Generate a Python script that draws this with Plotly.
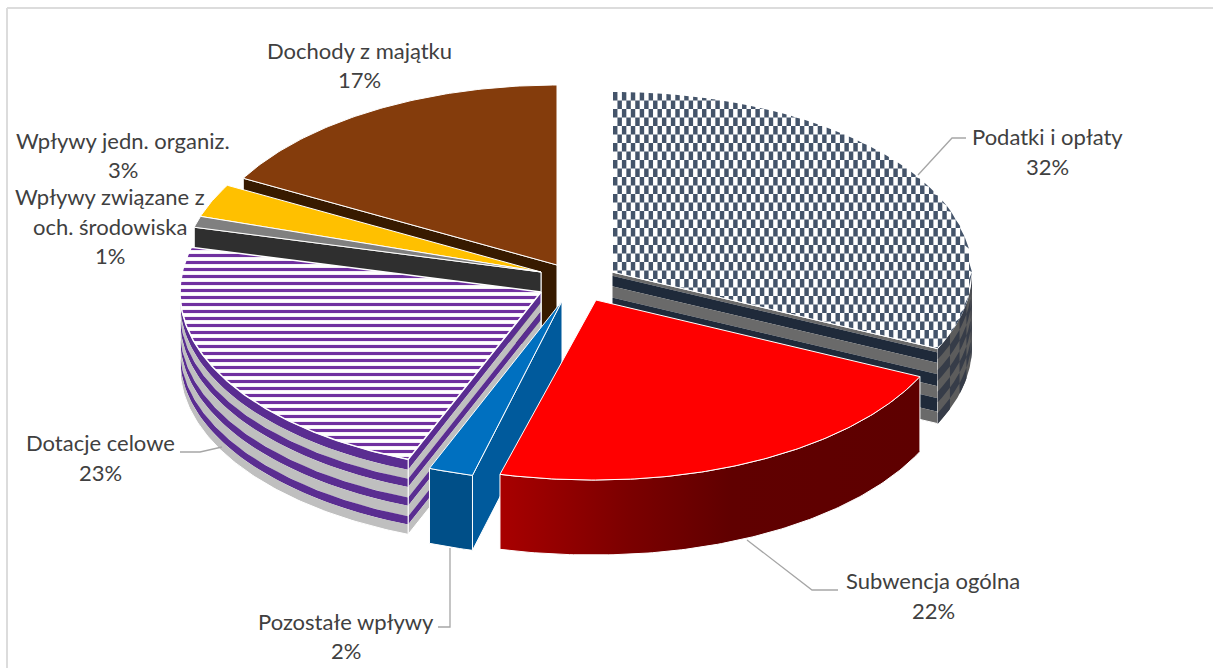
import math
import plotly.graph_objects as go

# ---- data ----
categories = ["Podatki i opłaty", "Subwencja ogólna", "Pozostałe wpływy", "Dotacje celowe",
              "Wpływy związane z och. środowiska", "Wpływy jedn. organiz.", "Dochody z majątku"]
shares = [32, 22, 2, 23, 1, 3, 17]
label_lines = [["Podatki i opłaty"], ["Subwencja ogólna"], ["Pozostałe wpływy"], ["Dotacje celowe"],
               ["Wpływy związane z", "och. środowiska"], ["Wpływy jedn. organiz."], ["Dochody z majątku"]]

# ---- layout / style (pixel space of the axes) ----
W, H = 1213, 668
RY, DEPTH = 180, 75
tips = [(612, 272), (596, 300), (562, 301), (541, 292), (541, 272), (541, 272), (557, 265)]
radii = [360, 358, 360, 361, 358, 358, 358]
label_pos = [(1047, [136, 166]), (933, [580, 610]), (346, [621, 650]), (100, [442, 472]),
             (110, [196, 226, 255]), (123, [140, 169]), (359, [50, 79])]
leaders = [[(918, 175), (952, 138), (966, 138)],
           [(747, 540), (812, 590), (838, 590)],
           [(450, 548), (450, 627), (438, 627)],
           [(222, 447), (200, 452), (180, 452)]]
TOP = ["#44546a", "#ff0000", "#0070c0", "#7030a0", "#808080", "#ffc000", "#843c0c"]

# angles (deg, clockwise from 12 o'clock) come from the shares
starts, ends, c = [], [], 0.0
for s in shares:
    starts.append(c)
    c += s * 3.6
    ends.append(c)


def pt(i, a, d=0.0):
    r = math.radians(a)
    x = tips[i][0] + radii[i] * math.sin(r)
    if i == 1 and a > 170:  # slight perspective widening at the front-left of the red slice
        x -= 7 * (a - 170) / (ends[1] - 170)
    return x, tips[i][1] - RY * math.cos(r) + d


def arc(i, a0, a1, d=0.0, n=None):
    n = n or max(2, int(abs(a1 - a0) * 1.5))
    return [pt(i, a0 + (a1 - a0) * k / n, d) for k in range(n + 1)]


fig = go.Figure()


def poly(points, color=None, line="white", lw=1.0, name="", **kw):
    xs = [p[0] for p in points] + [points[0][0]]
    ys = [p[1] for p in points] + [points[0][1]]
    fig.add_trace(go.Scatter(
        x=xs, y=ys, mode="lines", name=name, fill="toself",
        fillcolor=color if color else "rgba(0,0,0,0)",
        line=dict(color=line if line else "rgba(0,0,0,0)", width=lw if line else 0),
        hoverinfo="skip", showlegend=False, **kw))


def multi(polys, color, name=""):
    xs, ys = [], []
    for p in polys:
        xs += [q[0] for q in p] + [p[0][0], None]
        ys += [q[1] for q in p] + [p[0][1], None]
    fig.add_trace(go.Scatter(x=xs, y=ys, mode="lines", fill="toself", fillcolor=color,
                             line=dict(width=0, color=color), hoverinfo="skip",
                             showlegend=False, name=name))


def wedge(i):
    return [tips[i]] + arc(i, starts[i], ends[i])


def radial_wall(i, a):
    return [tips[i], pt(i, a), pt(i, a, DEPTH), (tips[i][0], tips[i][1] + DEPTH)]


def rim_wall(i, a0, a1):
    return arc(i, a0, a1) + arc(i, a1, a0, DEPTH)


def radial_bands(i, a, stops, colors):
    for k, col in enumerate(colors):
        d0, d1 = DEPTH * stops[k], DEPTH * stops[k + 1]
        poly([(tips[i][0], tips[i][1] + d0), pt(i, a, d0), pt(i, a, d1),
              (tips[i][0], tips[i][1] + d1)], col, line=None)


def rim_bands(i, a0, a1, stops, colors):
    for k, col in enumerate(colors):
        d0, d1 = DEPTH * stops[k], DEPTH * stops[k + 1]
        poly(arc(i, a0, a1, d0) + arc(i, a1, a0, d1), col, line=None)


# ---- Dochody z majątku (back) ----
i = 6
poly(radial_wall(i, starts[i]), "#371a00", name=categories[i])
poly(wedge(i), TOP[i], name=categories[i])

# ---- Wpływy jedn. organiz. ----
i = 5
poly(radial_wall(i, starts[i]), "#7f6000", name=categories[i])
poly(wedge(i), TOP[i], name=categories[i])

# ---- Ochrona środowiska ----
i = 4
poly(radial_wall(i, starts[i]), "#2f2f2f", name=categories[i])
poly(wedge(i), TOP[i], name=categories[i])

# ---- Podatki i opłaty: checker pattern ----
i = 0
radial_bands(i, ends[i], [0, .05, .19, .34, .50, .66, .84, 1],
             ["#6a6a6a", "#1f2a3a", "#6a6a6a", "#1f2a3a", "#6a6a6a", "#1f2a3a", "#6a6a6a"])
poly(radial_wall(i, ends[i]), None)
rim_bands(i, 90, ends[i], [0, 1], ["#5c5c5c"])
cells = []
NA, ND = 5, 7
for ca in range(NA):
    for cd in range(ND):
        if (ca + cd) % 2 == 0:
            a0 = 90 + (ends[i] - 90) * ca / NA
            a1 = 90 + (ends[i] - 90) * (ca + 1) / NA
            d0, d1 = DEPTH * cd / ND, DEPTH * (cd + 1) / ND
            cells.append(arc(i, a0, a1, d0, 3) + arc(i, a1, a0, d1, 3))
multi(cells, "#363c48")
poly(wedge(i), "white", line=None, name=categories[i])

ex, ey = pt(i, ends[i])
tx, ty = tips[i]
rx = radii[i]


def upper(x):
    u = min(1.0, abs(x - tx) / rx)
    return ty - RY * math.sqrt(1 - u * u)


def lower(x):
    if x <= ex:
        return ty + (ey - ty) * (x - tx) / (ex - tx)
    u = min(1.0, abs(x - tx) / rx)
    return ty + RY * math.sqrt(1 - u * u)


CW, CH = 4.45, 8.5
checks = []
cols = int(rx / CW) + 1
rows = int((ey - (ty - RY)) / CH) + 14
for col in range(cols):
    xl, xr = tx + 1 + col * CW, min(tx + 1 + (col + 1) * CW, tx + rx)
    if xl >= xr:
        continue
    for row in range(rows):
        if (col + row) % 2:
            continue
        yt, yb = ty - RY + row * CH, ty - RY + (row + 1) * CH
        ql = [max(upper(xl), min(yt, lower(xl))), max(upper(xl), min(yb, lower(xl)))]
        qr = [max(upper(xr), min(yt, lower(xr))), max(upper(xr), min(yb, lower(xr)))]
        if ql[1] - ql[0] < 0.1 and qr[1] - qr[0] < 0.1:
            continue
        checks.append([(xl, ql[0]), (xr, qr[0]), (xr, qr[1]), (xl, ql[1])])
multi(checks, TOP[i], name=categories[i])
fig.add_trace(go.Scatter(x=[tx, ex], y=[ty, ey], mode="lines", line=dict(color="white", width=1),
                         hoverinfo="skip", showlegend=False))

# ---- Dotacje celowe: stripes ----
i = 3
stripe_stops = [0, .14, .26, .37, .51, .62, .76, .87, 1]
stripe = ["#5a2d91", "#bfbfbf"] * 4
radial_bands(i, starts[i], stripe_stops, stripe)
poly(radial_wall(i, starts[i]), None)
rim_bands(i, starts[i], 270, stripe_stops, stripe)
poly(rim_wall(i, starts[i], 270), None)
poly(wedge(i), "white", lw=1.5, name=categories[i],
     fillpattern=dict(shape="-", fgcolor=TOP[i], bgcolor="white", fgopacity=1, size=7, solidity=0.45))

# ---- Pozostałe wpływy ----
i = 2
poly(radial_wall(i, starts[i]), "#005a9c", name=categories[i])
poly(rim_wall(i, starts[i], ends[i]), "#004f88", name=categories[i])
poly(wedge(i), TOP[i], name=categories[i])

# ---- Subwencja ogólna ----
i = 1
rim = rim_wall(i, starts[i], ends[i])
fig.add_trace(go.Scatter(
    x=[p[0] for p in rim] + [rim[0][0]], y=[p[1] for p in rim] + [rim[0][1]],
    mode="lines", fill="toself", line=dict(color="white", width=1), hoverinfo="skip", showlegend=False,
    fillgradient=dict(type="horizontal", colorscale=[[0, "#a80000"], [0.3, "#7c0000"], [0.55, "#600000"], [1, "#5e0000"]])))
poly(wedge(i), TOP[i], name=categories[i])

# ---- leader lines ----
for seg in leaders:
    fig.add_trace(go.Scatter(x=[p[0] for p in seg], y=[p[1] for p in seg], mode="lines",
                             line=dict(color="#a6a6a6", width=1.3), hoverinfo="skip", showlegend=False))

# ---- labels ----
ann = []
for lines, share, (cx, ys) in zip(label_lines, shares, label_pos):
    for text, y in zip(lines + [f"{share}%"], ys):
        ann.append(dict(x=cx, y=y, xref="x", yref="y", text=text, showarrow=False,
                        xanchor="center", yanchor="middle",
                        font=dict(family="Lato", size=22, color="#404040")))

frame = [dict(type="line", x0=7, x1=7, y0=8, y1=H, xref="x", yref="y", line=dict(color="#dcdcdc", width=2)),
         dict(type="line", x0=7, x1=W, y0=8, y1=8, xref="x", yref="y", line=dict(color="#dcdcdc", width=2))]

fig.update_layout(
    width=W, height=H, margin=dict(l=0, r=0, t=0, b=0), autosize=False,
    paper_bgcolor="white", plot_bgcolor="white", showlegend=False,
    xaxis=dict(range=[0, W], visible=False, fixedrange=True),
    yaxis=dict(range=[H, 0], visible=False, fixedrange=True),
    annotations=ann, shapes=frame,
)
fig.write_html("out.html", config={"displayModeBar": False},
               post_script="document.body.style.margin='0';document.documentElement.style.overflow='hidden';")
